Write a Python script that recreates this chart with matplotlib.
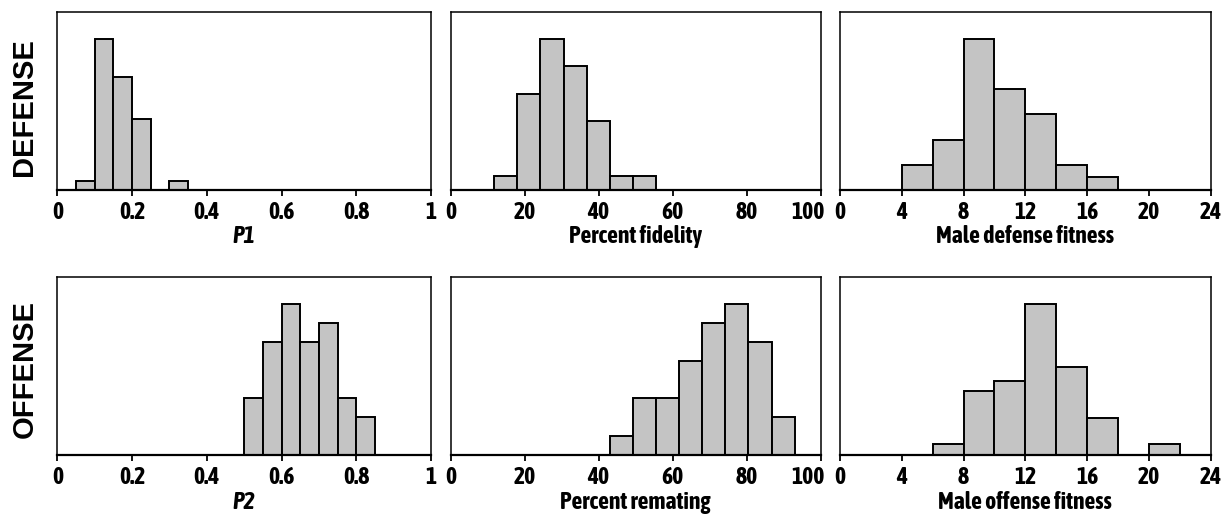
import matplotlib.pyplot as plt
from matplotlib.transforms import ScaledTranslation

plt.rcParams['font.family'] = ['Asap Condensed', 'Archivo Narrow', 'Liberation Sans', 'DejaVu Sans']

# --- data (bar heights in counts) ---
# DEFENSE row
p1_left = [0.05, 0.10, 0.15, 0.20, 0.25, 0.30]
p1_counts = [1, 16, 12, 7.5, 0, 1]
p1_width = 0.05

fid_left = [11.75, 18.0, 24.25, 30.5, 36.75, 43.0, 49.25]
fid_counts = [1, 7, 11, 9, 5, 1, 1]
fid_width = 6.25

mdf_left = [4, 6, 8, 10, 12, 14, 16]
mdf_counts = [2, 4, 12, 8, 6, 2, 1]
mdf_width = 2

# OFFENSE row
p2_left = [0.50, 0.55, 0.60, 0.65, 0.70, 0.75, 0.80]
p2_counts = [3, 6, 8, 6, 7, 3, 2]
p2_width = 0.05

rem_left = [43.0, 49.25, 55.5, 61.75, 68.0, 74.25, 80.5, 86.75]
rem_counts = [1, 3, 3, 5, 7, 8, 6, 2]
rem_width = 6.25

mof_left = [6, 8, 10, 12, 14, 16, 18, 20]
mof_counts = [1, 5.8, 6.8, 13.8, 8, 3.4, 0, 1]
mof_width = 2

# axis ticks
prop_ticks = [0, 0.2, 0.4, 0.6, 0.8, 1]
prop_labels = ['0', '0.2', '0.4', '0.6', '0.8', '1']
pct_ticks = [0, 20, 40, 60, 80, 100]
fit_ticks = [0, 4, 8, 12, 16, 20, 24]

panels = [
    # row, col, lefts, counts, width, xlim, ticks, ticklabels, xlabel, italic
    (0, 0, p1_left, p1_counts, p1_width, (0, 1), prop_ticks, prop_labels, 'P1', True),
    (0, 1, fid_left, fid_counts, fid_width, (0, 100), pct_ticks, [str(t) for t in pct_ticks], 'Percent fidelity', False),
    (0, 2, mdf_left, mdf_counts, mdf_width, (0, 24), fit_ticks, [str(t) for t in fit_ticks], 'Male defense fitness', False),
    (1, 0, p2_left, p2_counts, p2_width, (0, 1), prop_ticks, prop_labels, 'P2', True),
    (1, 1, rem_left, rem_counts, rem_width, (0, 100), pct_ticks, [str(t) for t in pct_ticks], 'Percent remating', False),
    (1, 2, mof_left, mof_counts, mof_width, (0, 24), fit_ticks, [str(t) for t in fit_ticks], 'Male offense fitness', False),
]

col_left = [0.0468, 0.3679, 0.6857]
col_width = [0.305, 0.302, 0.3026]
row_bottom = [0.6325, 0.1199]
row_height = 0.344

fig = plt.figure(figsize=(12.25, 5.17), dpi=100)

for row, col, lefts, counts, width, xlim, ticks, tlabels, xlabel, italic in panels:
    ax = fig.add_axes([col_left[col], row_bottom[row], col_width[col], row_height])
    ax.bar(lefts, counts, width=width, align='edge', color='#c4c4c4',
           edgecolor='black', linewidth=1.4, zorder=2)
    ax.set_xlim(*xlim)
    ax.set_ylim(0, max(counts) / 0.85)
    ax.set_yticks([])
    ax.set_xticks(ticks)
    ax.set_xticklabels(tlabels, fontsize=17, fontweight='bold')
    ax.tick_params(axis='x', direction='out', length=4, width=1.3, pad=4)
    ax.set_xlabel(xlabel, fontsize=17, fontweight='bold',
                  style='italic' if italic else 'normal', labelpad=1)
    # "100" sits to the left of its tick so it doesn't run into the next panel's "0"
    if col == 1:
        last = ax.get_xticklabels()[-1]
        last.set_ha('right')
        last.set_transform(last.get_transform() + ScaledTranslation(0.04, 0, fig.dpi_scale_trans))
    for side in ['left', 'right', 'top']:
        ax.spines[side].set_linewidth(1.1)
    ax.spines['bottom'].set_linewidth(1.6)

fig.text(0.02, 1 - 107 / 517, 'DEFENSE', rotation=90, ha='center', va='center',
         fontsize=21, fontweight='bold', family=['Liberation Sans', 'DejaVu Sans'])
fig.text(0.02, 1 - 369 / 517, 'OFFENSE', rotation=90, ha='center', va='center',
         fontsize=21, fontweight='bold', family=['Liberation Sans', 'DejaVu Sans'])

fig.savefig('out.png', dpi=100)
